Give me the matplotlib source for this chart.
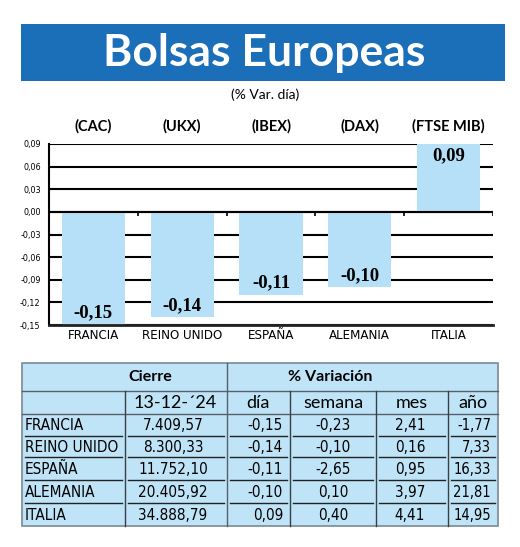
import numpy as np
import matplotlib
matplotlib.use("Agg")
import matplotlib.pyplot as plt
from matplotlib.patches import Rectangle
from matplotlib import font_manager

# datos
paises = ["FRANCIA", "REINO UNIDO", "ESPAÑA", "ALEMANIA", "ITALIA"]
indices = ["(CAC)", "(UKX)", "(IBEX)", "(DAX)", "(FTSE MIB)"]
var_dia = [-0.15, -0.14, -0.11, -0.10, 0.09]
yticks = [-0.15, -0.12, -0.09, -0.06, -0.03, 0.00, 0.03, 0.06, 0.09]

cierre = ["7.409,57", "8.300,33", "11.752,10", "20.405,92", "34.888,79"]
col_dia = ["-0,15", "-0,14", "-0,11", "-0,10", "0,09"]
col_semana = ["-0,23", "-0,10", "-2,65", "0,10", "0,40"]
col_mes = ["2,41", "0,16", "0,95", "3,97", "4,41"]
col_anio = ["-1,77", "7,33", "16,33", "21,81", "14,95"]
fecha = "13-12-´24"

azul = "#1b6eb8"
celeste = "#b5e0f7"
fondo_tabla = "#bfe4f7"

# fuente estrecha (DejaVu Sans Condensed) si existe
cond = [f for f in font_manager.fontManager.ttflist
        if f.name == "DejaVu Sans" and f.stretch == "condensed"
        and f.style == "normal" and f.weight in (400, "normal")]
if cond:
    narrow = font_manager.FontProperties(fname=cond[0].fname)
else:
    narrow = font_manager.FontProperties(family="Lato")

def nf(size):
    p = narrow.copy()
    p.set_size(size)
    return p

W, H = 520, 547
fig = plt.figure(figsize=(W / 100, H / 100), dpi=100)
fig.patch.set_facecolor("white")

# capa en pixeles para cabecera y tabla
bg = fig.add_axes([0, 0, 1, 1])
bg.set_xlim(0, W)
bg.set_ylim(H, 0)
bg.axis("off")

bg.add_patch(Rectangle((21, 24), 484, 57, facecolor=azul, edgecolor="none"))
bg.text(264, 53, "Bolsas Europeas", color="white", fontsize=32, fontweight="bold",
        family="Lato", ha="center", va="center")
bg.text(265, 95, "(% Var. día)", fontsize=10, family="Lato", ha="center", va="center")

# grafico de barras
ax = fig.add_axes([49 / W, (H - 325) / H, (493 - 49) / W, (325 - 144) / H])
x = np.arange(len(paises))
ax.bar(x, var_dia, width=0.71, color=celeste, zorder=2)
ax.set_xlim(-0.5, len(paises) - 0.5)
ax.set_ylim(-0.15, 0.09)
ax.set_yticks(yticks)
ax.set_yticklabels([f"{v:.2f}".replace(".", ",") for v in yticks], fontproperties=nf(6.5))
ax.yaxis.grid(True, color="black", lw=1.5, zorder=1)
ax.set_axisbelow(True)
ax.tick_params(axis="y", length=0, pad=6)
ax.set_xticks(x)
ax.set_xticklabels(paises, fontproperties=nf(9.5))
ax.tick_params(axis="x", length=0, pad=3)
for s in ["top", "right"]:
    ax.spines[s].set_visible(False)
ax.spines["left"].set_linewidth(1.5)
ax.spines["bottom"].set_linewidth(2)
ax.spines["bottom"].set_color("#222222")
ax.axhline(0, color="black", lw=1.5, zorder=3)
ax.vlines(x + 0.5, -0.006, 0, color="black", lw=1.2, zorder=3)

for i, v in enumerate(var_dia):
    off = 8.6 if v < 0 else -8.6
    ax.annotate(f"{v:.2f}".replace(".", ","), (i, v), xytext=(0, off),
                textcoords="offset points", ha="center", va="center",
                fontsize=13.5, fontweight="bold", family="Liberation Serif", zorder=4)
    ax.text(i, 1.1, indices[i], transform=ax.get_xaxis_transform(), ha="center",
            va="center", fontsize=10.5, fontweight="bold", family="Lato")

# tabla
x0, x1 = 22, 498
y0, y1 = 363, 526
cols = [22, 125, 227, 290, 376, 448, 498]
filas = [414, 436, 457, 480, 503, 526]
bg.add_patch(Rectangle((x0, y0), x1 - x0, y1 - y0, facecolor=fondo_tabla,
                       edgecolor="#7a8a94", lw=1.2))
bg.plot([x0, x1], [391, 391], color="#55606a", lw=1)
bg.plot([x0, x1], [414, 414], color="#55606a", lw=1)
bg.plot([227, 227], [y0, y1], color="#55606a", lw=1)
for cx in [125, 290, 376, 448]:
    bg.plot([cx, cx], [391, y1], color="#3a3f44", lw=1)
for fy in filas[1:-1]:
    for a, b in zip(cols[:-1], cols[1:]):
        bg.plot([a + 3, b - 3], [fy, fy], color="#222222", lw=1)

bg.text(150, 377, "Cierre", fontsize=11.5, fontweight="bold", family="Lato",
        ha="center", va="center")
bg.text(330, 377, "% Variación", fontsize=11.5, fontweight="bold", family="Lato",
        ha="center", va="center")
bg.text(175, 403, fecha, fontsize=13, family="Lato", ha="center", va="center")
for txt, cx in zip(["día", "semana", "mes", "año"], [258, 333, 412, 473]):
    bg.text(cx, 403, txt, fontsize=13, family="Lato", ha="center", va="center")

for r in range(len(paises)):
    cy = (filas[r] + filas[r + 1]) / 2 + 1
    bg.text(25, cy, paises[r], fontproperties=nf(11), ha="left", va="center")
    bg.text(173, cy, cierre[r], fontproperties=nf(11), ha="center", va="center")
    bg.text(283, cy, col_dia[r], fontproperties=nf(11), ha="right", va="center")
    bg.text(333, cy, col_semana[r], fontproperties=nf(11), ha="center", va="center")
    bg.text(410, cy, col_mes[r], fontproperties=nf(11), ha="center", va="center")
    bg.text(491, cy, col_anio[r], fontproperties=nf(10.5), ha="right", va="center")

fig.savefig("out.png", dpi=100)
